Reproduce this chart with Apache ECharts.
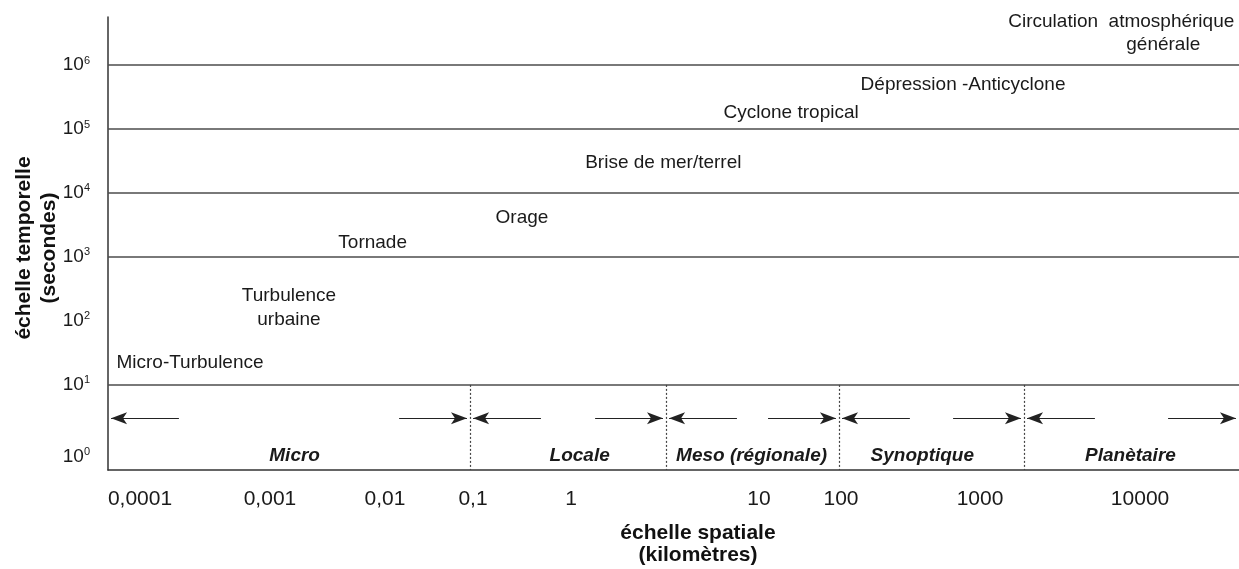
<!DOCTYPE html>
<html>
<head>
<meta charset="utf-8">
<script src="https://cdn.jsdelivr.net/npm/echarts@6/dist/echarts.min.js"></script>
<style>
    html, body { margin: 0; padding: 0; background: #fff; }
    #chart { width: 1239px; height: 569px; }
</style>
</head>
<body>
<div id="chart"></div>
<script>
// axe vertical : exposant de la durée (10^n secondes)
const yTickExp = [0, 1, 2, 3, 4, 5, 6]
const gridExp = [1, 3, 4, 5, 6]

// axe horizontal : échelle schématique (0-100), les repères ne sont pas réguliers
const xTickPos = [2.83, 14.32, 24.49, 32.27, 40.94, 57.56, 64.81, 77.1, 91.25]
const xTickText = ['0,0001', '0,001', '0,01', '0,1', '1', '10', '100', '1000', '10000']

// échelles (bandes du bas)
const bandNames = ['Micro', 'Locale', 'Meso (régionale)', 'Synoptique', 'Planètaire']
const bandEdges = [0, 32.01, 49.34, 64.63, 80.99, 100]
const bandLabelX = [16.5, 41.7, 56.9, 72.0, 90.4]

// phénomènes : nom, position x (échelle schématique), exposant temporel
const phenNames = ['Circulation  atmosphérique', 'générale', 'Dépression -Anticyclone', 'Cyclone tropical',
    'Brise de mer/terrel', 'Orage', 'Tornade', 'Turbulence\nurbaine', 'Micro-Turbulence']
const phenX = [79.6, 93.3, 75.6, 60.4, 49.1, 36.6, 23.4, 16.0, 7.25]
const phenY = [6.67, 6.31, 5.69, 5.25, 4.47, 3.62, 3.22, 2.2, 1.34]

const yMin = -0.33
const yMax = 6.75
const bandLabelY = -0.1
const arrowY = 0.48
const arrowGap = 0.27
const arrowLen = 6.0
const font = '"Liberation Sans", Arial, Helvetica, sans-serif'
const textColor = '#1a1a1a'

const chart = echarts.init(document.getElementById('chart'))

const phenData = phenNames.map((name, i) => {
    const item = { name: name, value: [phenX[i], phenY[i]] }
    if (i === 0) item.label = { align: 'left' }
    return item
})

const bandData = bandNames.map((name, i) => ({ name: name, value: [bandLabelX[i], bandLabelY] }))

let gridLines = gridExp.map(e => ({ yAxis: e }))
let sepLines = bandEdges.slice(1, -1).map(x => [
    { coord: [x, 1] },
    { coord: [x, yMin], lineStyle: { type: [2, 2], width: 1.2, color: '#444' } }
])

let arrows = []
for (let i = 0; i < bandNames.length; i++) {
    let a = bandEdges[i] + arrowGap
    let b = bandEdges[i + 1] - arrowGap
    arrows.push([{ coord: [a + arrowLen, arrowY] }, { coord: [a, arrowY] }])
    arrows.push([{ coord: [b - arrowLen, arrowY] }, { coord: [b, arrowY] }])
}

const plainLabel = {
    show: true,
    position: 'inside',
    formatter: '{b}',
    fontFamily: font,
    color: textColor,
    textBorderWidth: 0,
    textShadowBlur: 0
}

const option = {
    backgroundColor: '#fff',
    animation: false,
    grid: { left: 108, right: 0, top: 17, bottom: 99, containLabel: false },
    xAxis: {
        type: 'value',
        min: 0,
        max: 100,
        axisLine: { show: true, onZero: false, lineStyle: { color: '#333', width: 1.5 } },
        axisTick: { show: false },
        splitLine: { show: false },
        axisLabel: {
            customValues: xTickPos,
            formatter: v => xTickText[xTickPos.indexOf(v)],
            fontFamily: font,
            fontSize: 21,
            color: textColor,
            margin: 19
        }
    },
    yAxis: {
        type: 'value',
        min: yMin,
        max: yMax,
        axisLine: { show: true, onZero: false, lineStyle: { color: '#333', width: 1.5 } },
        axisTick: { show: false },
        splitLine: { show: false },
        axisLabel: {
            customValues: yTickExp,
            // 10^0 un peu plus bas, comme sur la figure
            formatter: v => (v === 0 ? '{e| }\n' : '') + '{b|10}{s|' + v + '}',
            margin: 18,
            rich: {
                e: { fontSize: 10, lineHeight: 16 },
                b: { fontFamily: font, fontSize: 19, color: textColor, lineHeight: 20 },
                s: { fontFamily: font, fontSize: 11, color: textColor, lineHeight: 20, verticalAlign: 'top' }
            }
        }
    },
    graphic: [
        {
            type: 'text',
            x: 698,
            y: 544,
            style: {
                text: 'échelle spatiale\n(kilomètres)',
                align: 'center',
                verticalAlign: 'middle',
                font: 'bold 21px ' + font,
                lineHeight: 22,
                fill: '#111'
            }
        },
        {
            type: 'text',
            x: 37,
            y: 248,
            rotation: Math.PI / 2,
            style: {
                text: 'échelle temporelle\n(secondes)',
                align: 'center',
                verticalAlign: 'middle',
                font: 'bold 21px ' + font,
                lineHeight: 25,
                fill: '#111'
            }
        }
    ],
    series: [
        {
            name: 'phénomènes',
            type: 'scatter',
            symbolSize: 0,
            silent: true,
            itemStyle: { opacity: 1 },
            data: phenData,
            label: Object.assign({}, plainLabel, { fontSize: 19, lineHeight: 24 }),
            markLine: {
                silent: true,
                symbol: 'none',
                label: { show: false },
                lineStyle: { color: '#4d4d4d', width: 1.6, type: 'solid' },
                data: gridLines.concat(sepLines)
            }
        },
        {
            name: 'échelles',
            type: 'scatter',
            symbolSize: 0,
            silent: true,
            itemStyle: { opacity: 1 },
            data: bandData,
            label: Object.assign({}, plainLabel, { fontSize: 19, fontWeight: 'bold', fontStyle: 'italic' }),
            markLine: {
                silent: true,
                symbol: ['none', 'arrow'],
                symbolSize: [9, 16],
                label: { show: false },
                lineStyle: { color: '#222', width: 1, type: 'solid' },
                data: arrows
            }
        }
    ]
}

chart.setOption(option)
</script>
</body>
</html>
